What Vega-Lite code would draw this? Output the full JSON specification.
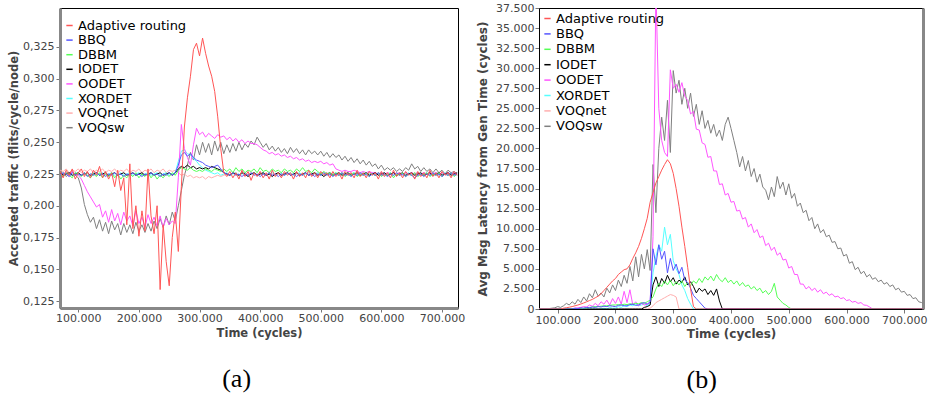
{
 "$schema": "https://vega.github.io/schema/vega-lite/v6.json",
 "padding": {"left": 8, "top": 1, "right": 2, "bottom": 2},
 "config": {
  "locale": {"number": {"decimal": ",", "thousands": ".", "grouping": [3], "currency": ["", ""]}},
  "font": "DejaVu Sans",
  "view": {"stroke": "black", "strokeWidth": 1},
  "axis": {"grid": false, "labelFont": "DejaVu Sans", "labelFontSize": 11, "labelColor": "#444", "titleFont": "DejaVu Sans", "titleFontWeight": "bold", "titleColor": "#444", "tickColor": "#777", "tickSize": 4, "labelPadding": 2, "domainColor": "black"},
  "legend": {"title": null, "symbolType": "stroke", "symbolSize": 40, "symbolStrokeWidth": 1.5, "labelFont": "DejaVu Sans", "labelFontSize": 13, "labelColor": "black", "padding": 0, "labelOffset": 2},
  "concat": {"spacing": 10}
 },
 "datasets": {
  "acc": [
   {"t":70000,"A":0.227,"B":0.224,"D":0.225,"I":0.226,"O":0.226,"X":0.225,"N":0.228,"S":0.224},
   {"t":75000,"A":0.222,"B":0.226,"D":0.223,"I":0.224,"O":0.224,"X":0.224,"N":0.227,"S":0.226},
   {"t":80000,"A":0.228,"B":0.225,"D":0.226,"I":0.225,"O":0.226,"X":0.226,"N":0.229,"S":0.223},
   {"t":85000,"A":0.224,"B":0.223,"D":0.224,"I":0.226,"O":0.223,"X":0.225,"N":0.226,"S":0.225},
   {"t":90000,"A":0.229,"B":0.226,"D":0.222,"I":0.224,"O":0.227,"X":0.224,"N":0.228,"S":0.227},
   {"t":95000,"A":0.221,"B":0.224,"D":0.226,"I":0.225,"O":0.225,"X":0.226,"N":0.227,"S":0.224},
   {"t":100000,"A":0.226,"B":0.225,"D":0.225,"I":0.226,"O":0.224,"X":0.225,"N":0.229,"S":0.222},
   {"t":105000,"A":0.229,"B":0.224,"D":0.223,"I":0.224,"O":0.221,"X":0.224,"N":0.226,"S":0.214},
   {"t":110000,"A":0.223,"B":0.226,"D":0.226,"I":0.225,"O":0.216,"X":0.226,"N":0.228,"S":0.201},
   {"t":115000,"A":0.227,"B":0.223,"D":0.224,"I":0.226,"O":0.211,"X":0.224,"N":0.227,"S":0.193},
   {"t":120000,"A":0.222,"B":0.225,"D":0.222,"I":0.224,"O":0.207,"X":0.225,"N":0.229,"S":0.187},
   {"t":125000,"A":0.228,"B":0.224,"D":0.225,"I":0.225,"O":0.203,"X":0.226,"N":0.226,"S":0.191},
   {"t":130000,"A":0.224,"B":0.226,"D":0.223,"I":0.226,"O":0.199,"X":0.224,"N":0.228,"S":0.182},
   {"t":135000,"A":0.231,"B":0.224,"D":0.226,"I":0.224,"O":0.201,"X":0.225,"N":0.227,"S":0.189},
   {"t":140000,"A":0.222,"B":0.225,"D":0.222,"I":0.225,"O":0.191,"X":0.226,"N":0.229,"S":0.180},
   {"t":145000,"A":0.227,"B":0.223,"D":0.225,"I":0.226,"O":0.196,"X":0.224,"N":0.226,"S":0.187},
   {"t":150000,"A":0.221,"B":0.225,"D":0.223,"I":0.224,"O":0.187,"X":0.225,"N":0.228,"S":0.178},
   {"t":155000,"A":0.226,"B":0.224,"D":0.226,"I":0.225,"O":0.197,"X":0.226,"N":0.227,"S":0.188},
   {"t":160000,"A":0.215,"B":0.226,"D":0.222,"I":0.226,"O":0.188,"X":0.224,"N":0.229,"S":0.181},
   {"t":165000,"A":0.228,"B":0.224,"D":0.225,"I":0.224,"O":0.194,"X":0.225,"N":0.226,"S":0.186},
   {"t":170000,"A":0.212,"B":0.225,"D":0.221,"I":0.225,"O":0.185,"X":0.226,"N":0.228,"S":0.177},
   {"t":175000,"A":0.222,"B":0.223,"D":0.224,"I":0.226,"O":0.195,"X":0.224,"N":0.227,"S":0.186},
   {"t":180000,"A":0.185,"B":0.225,"D":0.222,"I":0.224,"O":0.188,"X":0.225,"N":0.229,"S":0.179},
   {"t":185000,"A":0.233,"B":0.224,"D":0.225,"I":0.225,"O":0.192,"X":0.226,"N":0.226,"S":0.185},
   {"t":190000,"A":0.182,"B":0.226,"D":0.223,"I":0.226,"O":0.184,"X":0.224,"N":0.228,"S":0.178},
   {"t":195000,"A":0.200,"B":0.224,"D":0.226,"I":0.224,"O":0.196,"X":0.225,"N":0.227,"S":0.187},
   {"t":200000,"A":0.176,"B":0.225,"D":0.222,"I":0.225,"O":0.186,"X":0.226,"N":0.229,"S":0.180},
   {"t":205000,"A":0.196,"B":0.223,"D":0.225,"I":0.226,"O":0.191,"X":0.224,"N":0.226,"S":0.185},
   {"t":210000,"A":0.180,"B":0.225,"D":0.223,"I":0.224,"O":0.183,"X":0.225,"N":0.228,"S":0.179},
   {"t":215000,"A":0.229,"B":0.224,"D":0.226,"I":0.225,"O":0.193,"X":0.226,"N":0.227,"S":0.186},
   {"t":220000,"A":0.192,"B":0.226,"D":0.222,"I":0.226,"O":0.186,"X":0.224,"N":0.229,"S":0.180},
   {"t":225000,"A":0.178,"B":0.224,"D":0.225,"I":0.224,"O":0.191,"X":0.225,"N":0.226,"S":0.188},
   {"t":230000,"A":0.200,"B":0.225,"D":0.221,"I":0.225,"O":0.184,"X":0.226,"N":0.228,"S":0.182},
   {"t":235000,"A":0.134,"B":0.223,"D":0.224,"I":0.226,"O":0.192,"X":0.224,"N":0.227,"S":0.190},
   {"t":240000,"A":0.185,"B":0.225,"D":0.222,"I":0.224,"O":0.183,"X":0.225,"N":0.229,"S":0.183},
   {"t":245000,"A":0.156,"B":0.224,"D":0.225,"I":0.225,"O":0.190,"X":0.226,"N":0.226,"S":0.192},
   {"t":250000,"A":0.137,"B":0.226,"D":0.223,"I":0.226,"O":0.185,"X":0.224,"N":0.228,"S":0.185},
   {"t":255000,"A":0.175,"B":0.224,"D":0.226,"I":0.224,"O":0.188,"X":0.225,"N":0.227,"S":0.195},
   {"t":260000,"A":0.195,"B":0.226,"D":0.224,"I":0.226,"O":0.186,"X":0.226,"N":0.228,"S":0.188},
   {"t":265000,"A":0.164,"B":0.232,"D":0.228,"I":0.229,"O":0.222,"X":0.235,"N":0.226,"S":0.200},
   {"t":270000,"A":0.215,"B":0.240,"D":0.230,"I":0.231,"O":0.264,"X":0.243,"N":0.224,"S":0.212},
   {"t":275000,"A":0.262,"B":0.242,"D":0.229,"I":0.230,"O":0.245,"X":0.244,"N":0.225,"S":0.224},
   {"t":280000,"A":0.285,"B":0.239,"D":0.228,"I":0.232,"O":0.238,"X":0.241,"N":0.223,"S":0.232},
   {"t":285000,"A":0.302,"B":0.241,"D":0.230,"I":0.230,"O":0.232,"X":0.240,"N":0.224,"S":0.242},
   {"t":290000,"A":0.323,"B":0.238,"D":0.228,"I":0.231,"O":0.248,"X":0.237,"N":0.222,"S":0.236},
   {"t":295000,"A":0.328,"B":0.236,"D":0.227,"I":0.229,"O":0.261,"X":0.235,"N":0.223,"S":0.248},
   {"t":300000,"A":0.318,"B":0.235,"D":0.228,"I":0.230,"O":0.256,"X":0.232,"N":0.222,"S":0.240},
   {"t":305000,"A":0.332,"B":0.234,"D":0.227,"I":0.229,"O":0.258,"X":0.230,"N":0.223,"S":0.250},
   {"t":310000,"A":0.320,"B":0.232,"D":0.229,"I":0.230,"O":0.254,"X":0.228,"N":0.221,"S":0.242},
   {"t":315000,"A":0.310,"B":0.231,"D":0.228,"I":0.229,"O":0.257,"X":0.227,"N":0.223,"S":0.249},
   {"t":320000,"A":0.302,"B":0.230,"D":0.227,"I":0.231,"O":0.255,"X":0.226,"N":0.222,"S":0.240},
   {"t":325000,"A":0.290,"B":0.231,"D":0.229,"I":0.230,"O":0.253,"X":0.225,"N":0.223,"S":0.251},
   {"t":330000,"A":0.270,"B":0.232,"D":0.228,"I":0.229,"O":0.256,"X":0.226,"N":0.224,"S":0.243},
   {"t":335000,"A":0.245,"B":0.229,"D":0.227,"I":0.228,"O":0.254,"X":0.224,"N":0.223,"S":0.250},
   {"t":340000,"A":0.226,"B":0.226,"D":0.229,"I":0.226,"O":0.255,"X":0.225,"N":0.224,"S":0.241},
   {"t":345000,"A":0.223,"B":0.225,"D":0.227,"I":0.225,"O":0.252,"X":0.226,"N":0.225,"S":0.248},
   {"t":350000,"A":0.227,"B":0.224,"D":0.229,"I":0.224,"O":0.254,"X":0.224,"N":0.224,"S":0.242},
   {"t":355000,"A":0.222,"B":0.226,"D":0.226,"I":0.226,"O":0.251,"X":0.225,"N":0.226,"S":0.249},
   {"t":360000,"A":0.226,"B":0.224,"D":0.230,"I":0.225,"O":0.253,"X":0.226,"N":0.225,"S":0.243},
   {"t":365000,"A":0.221,"B":0.225,"D":0.227,"I":0.224,"O":0.250,"X":0.224,"N":0.224,"S":0.250},
   {"t":370000,"A":0.228,"B":0.223,"D":0.229,"I":0.226,"O":0.252,"X":0.225,"N":0.226,"S":0.244},
   {"t":375000,"A":0.223,"B":0.225,"D":0.226,"I":0.225,"O":0.249,"X":0.226,"N":0.225,"S":0.249},
   {"t":380000,"A":0.227,"B":0.224,"D":0.228,"I":0.223,"O":0.251,"X":0.224,"N":0.224,"S":0.246},
   {"t":385000,"A":0.220,"B":0.226,"D":0.227,"I":0.225,"O":0.249,"X":0.225,"N":0.226,"S":0.251},
   {"t":390000,"A":0.226,"B":0.224,"D":0.229,"I":0.226,"O":0.249,"X":0.226,"N":0.225,"S":0.248},
   {"t":395000,"A":0.223,"B":0.225,"D":0.226,"I":0.224,"O":0.248,"X":0.224,"N":0.224,"S":0.254},
   {"t":400000,"A":0.227,"B":0.223,"D":0.230,"I":0.225,"O":0.246,"X":0.225,"N":0.226,"S":0.250},
   {"t":405000,"A":0.222,"B":0.225,"D":0.227,"I":0.226,"O":0.244,"X":0.226,"N":0.225,"S":0.246},
   {"t":410000,"A":0.226,"B":0.224,"D":0.228,"I":0.224,"O":0.243,"X":0.224,"N":0.224,"S":0.249},
   {"t":415000,"A":0.221,"B":0.226,"D":0.226,"I":0.225,"O":0.241,"X":0.225,"N":0.226,"S":0.244},
   {"t":420000,"A":0.228,"B":0.224,"D":0.229,"I":0.223,"O":0.242,"X":0.226,"N":0.225,"S":0.247},
   {"t":425000,"A":0.223,"B":0.225,"D":0.227,"I":0.225,"O":0.240,"X":0.224,"N":0.224,"S":0.243},
   {"t":430000,"A":0.226,"B":0.223,"D":0.228,"I":0.226,"O":0.241,"X":0.225,"N":0.226,"S":0.246},
   {"t":435000,"A":0.222,"B":0.225,"D":0.226,"I":0.224,"O":0.239,"X":0.226,"N":0.225,"S":0.242},
   {"t":440000,"A":0.227,"B":0.224,"D":0.229,"I":0.225,"O":0.240,"X":0.224,"N":0.224,"S":0.245},
   {"t":445000,"A":0.224,"B":0.226,"D":0.227,"I":0.226,"O":0.238,"X":0.225,"N":0.226,"S":0.241},
   {"t":450000,"A":0.226,"B":0.224,"D":0.228,"I":0.224,"O":0.239,"X":0.226,"N":0.225,"S":0.246},
   {"t":455000,"A":0.221,"B":0.225,"D":0.226,"I":0.225,"O":0.237,"X":0.224,"N":0.224,"S":0.242},
   {"t":460000,"A":0.227,"B":0.223,"D":0.229,"I":0.226,"O":0.238,"X":0.225,"N":0.226,"S":0.245},
   {"t":465000,"A":0.223,"B":0.225,"D":0.227,"I":0.224,"O":0.236,"X":0.226,"N":0.225,"S":0.241},
   {"t":470000,"A":0.226,"B":0.224,"D":0.230,"I":0.225,"O":0.237,"X":0.224,"N":0.224,"S":0.244},
   {"t":475000,"A":0.222,"B":0.226,"D":0.227,"I":0.226,"O":0.235,"X":0.225,"N":0.226,"S":0.240},
   {"t":480000,"A":0.228,"B":0.224,"D":0.228,"I":0.224,"O":0.236,"X":0.226,"N":0.225,"S":0.244},
   {"t":485000,"A":0.223,"B":0.225,"D":0.226,"I":0.225,"O":0.234,"X":0.224,"N":0.224,"S":0.241},
   {"t":490000,"A":0.226,"B":0.223,"D":0.229,"I":0.226,"O":0.235,"X":0.225,"N":0.226,"S":0.243},
   {"t":495000,"A":0.222,"B":0.225,"D":0.227,"I":0.224,"O":0.234,"X":0.226,"N":0.225,"S":0.240},
   {"t":500000,"A":0.227,"B":0.224,"D":0.225,"I":0.225,"O":0.235,"X":0.224,"N":0.224,"S":0.243},
   {"t":505000,"A":0.224,"B":0.226,"D":0.227,"I":0.223,"O":0.233,"X":0.225,"N":0.226,"S":0.239},
   {"t":510000,"A":0.226,"B":0.224,"D":0.225,"I":0.225,"O":0.234,"X":0.226,"N":0.225,"S":0.242},
   {"t":515000,"A":0.222,"B":0.225,"D":0.226,"I":0.226,"O":0.232,"X":0.224,"N":0.224,"S":0.238},
   {"t":520000,"A":0.227,"B":0.223,"D":0.224,"I":0.224,"O":0.233,"X":0.225,"N":0.226,"S":0.241},
   {"t":525000,"A":0.223,"B":0.225,"D":0.226,"I":0.225,"O":0.229,"X":0.226,"N":0.225,"S":0.238},
   {"t":530000,"A":0.226,"B":0.224,"D":0.224,"I":0.226,"O":0.228,"X":0.224,"N":0.224,"S":0.240},
   {"t":535000,"A":0.221,"B":0.226,"D":0.226,"I":0.224,"O":0.227,"X":0.225,"N":0.226,"S":0.236},
   {"t":540000,"A":0.227,"B":0.224,"D":0.223,"I":0.225,"O":0.228,"X":0.226,"N":0.225,"S":0.239},
   {"t":545000,"A":0.224,"B":0.225,"D":0.225,"I":0.226,"O":0.227,"X":0.224,"N":0.224,"S":0.235},
   {"t":550000,"A":0.226,"B":0.223,"D":0.224,"I":0.224,"O":0.227,"X":0.225,"N":0.226,"S":0.238},
   {"t":555000,"A":0.222,"B":0.225,"D":0.226,"I":0.225,"O":0.228,"X":0.226,"N":0.225,"S":0.234},
   {"t":560000,"A":0.228,"B":0.224,"D":0.223,"I":0.226,"O":0.227,"X":0.224,"N":0.224,"S":0.237},
   {"t":565000,"A":0.223,"B":0.226,"D":0.225,"I":0.224,"O":0.226,"X":0.225,"N":0.226,"S":0.233},
   {"t":570000,"A":0.226,"B":0.224,"D":0.224,"I":0.225,"O":0.227,"X":0.226,"N":0.225,"S":0.236},
   {"t":575000,"A":0.222,"B":0.225,"D":0.226,"I":0.226,"O":0.226,"X":0.224,"N":0.224,"S":0.232},
   {"t":580000,"A":0.227,"B":0.223,"D":0.223,"I":0.224,"O":0.227,"X":0.225,"N":0.226,"S":0.235},
   {"t":585000,"A":0.224,"B":0.225,"D":0.225,"I":0.225,"O":0.226,"X":0.226,"N":0.225,"S":0.231},
   {"t":590000,"A":0.226,"B":0.224,"D":0.224,"I":0.226,"O":0.226,"X":0.224,"N":0.224,"S":0.233},
   {"t":595000,"A":0.221,"B":0.226,"D":0.226,"I":0.224,"O":0.225,"X":0.225,"N":0.226,"S":0.229},
   {"t":600000,"A":0.227,"B":0.224,"D":0.223,"I":0.225,"O":0.226,"X":0.226,"N":0.225,"S":0.232},
   {"t":605000,"A":0.223,"B":0.225,"D":0.225,"I":0.226,"O":0.225,"X":0.224,"N":0.224,"S":0.228},
   {"t":610000,"A":0.226,"B":0.223,"D":0.224,"I":0.224,"O":0.226,"X":0.225,"N":0.226,"S":0.230},
   {"t":615000,"A":0.222,"B":0.225,"D":0.226,"I":0.225,"O":0.225,"X":0.226,"N":0.225,"S":0.228},
   {"t":620000,"A":0.228,"B":0.224,"D":0.222,"I":0.226,"O":0.226,"X":0.224,"N":0.224,"S":0.230},
   {"t":625000,"A":0.223,"B":0.226,"D":0.225,"I":0.224,"O":0.225,"X":0.225,"N":0.226,"S":0.227},
   {"t":630000,"A":0.226,"B":0.224,"D":0.224,"I":0.225,"O":0.226,"X":0.226,"N":0.225,"S":0.229},
   {"t":635000,"A":0.222,"B":0.225,"D":0.226,"I":0.226,"O":0.225,"X":0.224,"N":0.224,"S":0.227},
   {"t":640000,"A":0.227,"B":0.223,"D":0.223,"I":0.224,"O":0.226,"X":0.225,"N":0.226,"S":0.230},
   {"t":645000,"A":0.224,"B":0.225,"D":0.225,"I":0.225,"O":0.225,"X":0.226,"N":0.225,"S":0.228},
   {"t":650000,"A":0.226,"B":0.224,"D":0.224,"I":0.226,"O":0.226,"X":0.224,"N":0.224,"S":0.233},
   {"t":655000,"A":0.221,"B":0.222,"D":0.226,"I":0.224,"O":0.225,"X":0.225,"N":0.226,"S":0.229},
   {"t":660000,"A":0.227,"B":0.224,"D":0.223,"I":0.225,"O":0.226,"X":0.226,"N":0.225,"S":0.231},
   {"t":665000,"A":0.223,"B":0.225,"D":0.225,"I":0.226,"O":0.225,"X":0.224,"N":0.224,"S":0.227},
   {"t":670000,"A":0.226,"B":0.223,"D":0.224,"I":0.224,"O":0.226,"X":0.225,"N":0.226,"S":0.230},
   {"t":675000,"A":0.222,"B":0.225,"D":0.226,"I":0.225,"O":0.225,"X":0.226,"N":0.225,"S":0.227},
   {"t":680000,"A":0.228,"B":0.224,"D":0.223,"I":0.226,"O":0.226,"X":0.224,"N":0.224,"S":0.229},
   {"t":685000,"A":0.223,"B":0.226,"D":0.225,"I":0.224,"O":0.225,"X":0.225,"N":0.226,"S":0.226},
   {"t":690000,"A":0.226,"B":0.224,"D":0.224,"I":0.225,"O":0.226,"X":0.226,"N":0.225,"S":0.229},
   {"t":695000,"A":0.222,"B":0.225,"D":0.226,"I":0.226,"O":0.225,"X":0.224,"N":0.224,"S":0.226},
   {"t":700000,"A":0.227,"B":0.223,"D":0.223,"I":0.224,"O":0.226,"X":0.225,"N":0.226,"S":0.228},
   {"t":705000,"A":0.224,"B":0.225,"D":0.225,"I":0.225,"O":0.225,"X":0.226,"N":0.225,"S":0.225},
   {"t":710000,"A":0.226,"B":0.224,"D":0.224,"I":0.226,"O":0.226,"X":0.224,"N":0.224,"S":0.228},
   {"t":715000,"A":0.222,"B":0.226,"D":0.226,"I":0.224,"O":0.225,"X":0.225,"N":0.226,"S":0.226},
   {"t":720000,"A":0.227,"B":0.224,"D":0.223,"I":0.225,"O":0.226,"X":0.226,"N":0.225,"S":0.227},
   {"t":725000,"A":0.224,"B":0.225,"D":0.225,"I":0.226,"O":0.225,"X":0.224,"N":0.224,"S":0.225}
  ],
  "lat": [
   {"t":65000,"A":0,"B":0,"D":0,"I":0,"O":0,"X":0,"N":0,"S":0},
   {"t":70000,"A":0,"B":0,"D":0,"I":0,"O":0,"X":0,"N":0,"S":0},
   {"t":75000,"A":0,"B":0,"D":0,"I":0,"O":0,"X":0,"N":0,"S":0},
   {"t":80000,"A":0,"B":0,"D":0,"I":0,"O":0,"X":0,"N":0,"S":0},
   {"t":85000,"A":0,"B":0,"D":0,"I":0,"O":0,"X":0,"N":0,"S":50},
   {"t":90000,"A":0,"B":0,"D":0,"I":0,"O":0,"X":0,"N":0,"S":100},
   {"t":95000,"A":0,"B":0,"D":0,"I":0,"O":0,"X":0,"N":0,"S":150},
   {"t":100000,"A":0,"B":0,"D":0,"I":0,"O":0,"X":0,"N":0,"S":300},
   {"t":105000,"A":0,"B":0,"D":0,"I":0,"O":0,"X":0,"N":0,"S":200},
   {"t":110000,"A":100,"B":0,"D":0,"I":0,"O":0,"X":0,"N":0,"S":400},
   {"t":115000,"A":160,"B":0,"D":0,"I":0,"O":0,"X":0,"N":0,"S":700},
   {"t":120000,"A":220,"B":0,"D":0,"I":0,"O":0,"X":0,"N":0,"S":500},
   {"t":125000,"A":300,"B":0,"D":0,"I":0,"O":50,"X":0,"N":0,"S":900},
   {"t":130000,"A":400,"B":100,"D":0,"I":0,"O":100,"X":0,"N":0,"S":600},
   {"t":135000,"A":500,"B":50,"D":0,"I":0,"O":150,"X":0,"N":0,"S":1200},
   {"t":140000,"A":620,"B":150,"D":0,"I":0,"O":200,"X":0,"N":0,"S":800},
   {"t":145000,"A":750,"B":100,"D":100,"I":0,"O":300,"X":0,"N":0,"S":1500},
   {"t":150000,"A":900,"B":200,"D":150,"I":0,"O":250,"X":0,"N":0,"S":1000},
   {"t":155000,"A":1050,"B":150,"D":200,"I":0,"O":500,"X":0,"N":0,"S":1900},
   {"t":160000,"A":1200,"B":250,"D":250,"I":0,"O":350,"X":0,"N":0,"S":1400},
   {"t":165000,"A":1400,"B":200,"D":300,"I":0,"O":700,"X":0,"N":0,"S":2400},
   {"t":170000,"A":1600,"B":300,"D":300,"I":0,"O":400,"X":0,"N":0,"S":1600},
   {"t":175000,"A":1900,"B":250,"D":350,"I":0,"O":900,"X":0,"N":0,"S":2000},
   {"t":180000,"A":2300,"B":350,"D":400,"I":0,"O":600,"X":100,"N":0,"S":1500},
   {"t":185000,"A":2700,"B":300,"D":400,"I":0,"O":1100,"X":0,"N":0,"S":2600},
   {"t":190000,"A":3100,"B":400,"D":450,"I":0,"O":500,"X":200,"N":0,"S":2000},
   {"t":195000,"A":3500,"B":350,"D":500,"I":0,"O":1300,"X":100,"N":0,"S":3000},
   {"t":200000,"A":3800,"B":300,"D":500,"I":0,"O":700,"X":100,"N":0,"S":2300},
   {"t":205000,"A":4300,"B":450,"D":550,"I":0,"O":1500,"X":300,"N":0,"S":3600},
   {"t":210000,"A":4600,"B":500,"D":500,"I":0,"O":600,"X":200,"N":0,"S":2800},
   {"t":215000,"A":4900,"B":400,"D":600,"I":0,"O":2200,"X":400,"N":0,"S":4200},
   {"t":220000,"A":5000,"B":400,"D":550,"I":0,"O":800,"X":300,"N":0,"S":3200},
   {"t":225000,"A":5500,"B":550,"D":650,"I":0,"O":2400,"X":500,"N":0,"S":5300},
   {"t":230000,"A":6300,"B":600,"D":600,"I":0,"O":500,"X":400,"N":0,"S":3500},
   {"t":235000,"A":7000,"B":450,"D":700,"I":0,"O":900,"X":600,"N":0,"S":6500},
   {"t":240000,"A":7800,"B":500,"D":650,"I":0,"O":400,"X":400,"N":0,"S":4000},
   {"t":245000,"A":8800,"B":700,"D":800,"I":0,"O":700,"X":500,"N":0,"S":6800},
   {"t":250000,"A":10000,"B":800,"D":700,"I":200,"O":500,"X":600,"N":0,"S":5000},
   {"t":255000,"A":11300,"B":600,"D":900,"I":300,"O":600,"X":400,"N":0,"S":7400},
   {"t":260000,"A":13300,"B":900,"D":1100,"I":500,"O":800,"X":700,"N":100,"S":4800},
   {"t":265000,"A":14500,"B":7500,"D":1500,"I":3000,"O":9000,"X":4500,"N":400,"S":18000},
   {"t":270000,"A":15700,"B":5500,"D":2500,"I":4000,"O":40000,"X":6500,"N":800,"S":12000},
   {"t":275000,"A":16500,"B":8000,"D":3200,"I":2800,"O":25000,"X":8000,"N":1000,"S":20000},
   {"t":280000,"A":17300,"B":6200,"D":2800,"I":3800,"O":21000,"X":7200,"N":1200,"S":23900},
   {"t":285000,"A":18000,"B":7200,"D":3500,"I":3200,"O":19500,"X":10200,"N":1400,"S":21000},
   {"t":290000,"A":18600,"B":4500,"D":3000,"I":4200,"O":19000,"X":8000,"N":1600,"S":26000},
   {"t":295000,"A":18100,"B":6300,"D":3600,"I":3400,"O":29800,"X":9300,"N":1800,"S":19500},
   {"t":300000,"A":16900,"B":4800,"D":2900,"I":3900,"O":27500,"X":6000,"N":1700,"S":29700},
   {"t":305000,"A":15000,"B":5600,"D":3400,"I":3100,"O":28000,"X":5000,"N":1500,"S":26900},
   {"t":310000,"A":12800,"B":4400,"D":3000,"I":3600,"O":27000,"X":4300,"N":0,"S":28500},
   {"t":315000,"A":10200,"B":5200,"D":3500,"I":3300,"O":28200,"X":3000,"N":0,"S":25500},
   {"t":320000,"A":7800,"B":3600,"D":2800,"I":4000,"O":26500,"X":2300,"N":0,"S":27500},
   {"t":325000,"A":5200,"B":3300,"D":3300,"I":3000,"O":26000,"X":1300,"N":0,"S":25000},
   {"t":330000,"A":2500,"B":2600,"D":2900,"I":3400,"O":24300,"X":600,"N":0,"S":26900},
   {"t":335000,"A":300,"B":1700,"D":3500,"I":2800,"O":24600,"X":0,"N":0,"S":24000},
   {"t":340000,"A":0,"B":1300,"D":3200,"I":2000,"O":22400,"X":0,"N":0,"S":25500},
   {"t":345000,"A":0,"B":900,"D":3800,"I":2600,"O":22300,"X":0,"N":0,"S":23000},
   {"t":350000,"A":0,"B":500,"D":3300,"I":2200,"O":20700,"X":0,"N":0,"S":24700},
   {"t":355000,"A":0,"B":100,"D":4000,"I":2500,"O":20500,"X":0,"N":0,"S":22500},
   {"t":360000,"A":0,"B":0,"D":3600,"I":1800,"O":18900,"X":0,"N":0,"S":23500},
   {"t":365000,"A":0,"B":0,"D":4100,"I":2300,"O":19000,"X":0,"N":0,"S":21900},
   {"t":370000,"A":0,"B":0,"D":3500,"I":1700,"O":17200,"X":0,"N":0,"S":23000},
   {"t":375000,"A":0,"B":0,"D":4300,"I":2500,"O":17200,"X":0,"N":0,"S":21500},
   {"t":380000,"A":0,"B":0,"D":3700,"I":1000,"O":15500,"X":0,"N":0,"S":22300},
   {"t":385000,"A":0,"B":0,"D":3400,"I":0,"O":15600,"X":0,"N":0,"S":21000},
   {"t":390000,"A":0,"B":0,"D":3900,"I":0,"O":14200,"X":0,"N":0,"S":23000},
   {"t":395000,"A":0,"B":0,"D":3300,"I":0,"O":14400,"X":0,"N":0,"S":23900},
   {"t":400000,"A":0,"B":0,"D":3600,"I":0,"O":13300,"X":0,"N":0,"S":22500},
   {"t":405000,"A":0,"B":0,"D":3100,"I":0,"O":13400,"X":0,"N":0,"S":21000},
   {"t":410000,"A":0,"B":0,"D":3500,"I":0,"O":12200,"X":0,"N":0,"S":19500},
   {"t":415000,"A":0,"B":0,"D":2900,"I":0,"O":12300,"X":0,"N":0,"S":17700},
   {"t":420000,"A":0,"B":0,"D":3300,"I":0,"O":11200,"X":0,"N":0,"S":19000},
   {"t":425000,"A":0,"B":0,"D":2800,"I":0,"O":11400,"X":0,"N":0,"S":17200},
   {"t":430000,"A":0,"B":0,"D":3000,"I":0,"O":10200,"X":0,"N":0,"S":18500},
   {"t":435000,"A":0,"B":0,"D":2500,"I":0,"O":10600,"X":0,"N":0,"S":16500},
   {"t":440000,"A":0,"B":0,"D":2800,"I":0,"O":9500,"X":0,"N":0,"S":17500},
   {"t":445000,"A":0,"B":0,"D":2300,"I":0,"O":9900,"X":0,"N":0,"S":15800},
   {"t":450000,"A":0,"B":0,"D":2600,"I":0,"O":8900,"X":0,"N":0,"S":16800},
   {"t":455000,"A":0,"B":0,"D":2000,"I":0,"O":9100,"X":0,"N":0,"S":15200},
   {"t":460000,"A":0,"B":0,"D":2300,"I":0,"O":7900,"X":0,"N":0,"S":14800},
   {"t":465000,"A":0,"B":0,"D":1800,"I":0,"O":8200,"X":0,"N":0,"S":13600},
   {"t":470000,"A":0,"B":0,"D":2200,"I":0,"O":7300,"X":0,"N":0,"S":15200},
   {"t":475000,"A":0,"B":0,"D":3200,"I":0,"O":7700,"X":0,"N":0,"S":14000},
   {"t":480000,"A":0,"B":0,"D":1500,"I":0,"O":6700,"X":0,"N":0,"S":16500},
   {"t":485000,"A":0,"B":0,"D":1100,"I":0,"O":7000,"X":0,"N":0,"S":15000},
   {"t":490000,"A":0,"B":0,"D":700,"I":0,"O":6100,"X":0,"N":0,"S":15800},
   {"t":495000,"A":0,"B":0,"D":500,"I":0,"O":6200,"X":0,"N":0,"S":14200},
   {"t":500000,"A":0,"B":0,"D":200,"I":0,"O":5100,"X":0,"N":0,"S":15600},
   {"t":505000,"A":0,"B":0,"D":0,"I":0,"O":5300,"X":0,"N":0,"S":13800},
   {"t":510000,"A":0,"B":0,"D":0,"I":0,"O":4300,"X":0,"N":0,"S":14400},
   {"t":515000,"A":0,"B":0,"D":0,"I":0,"O":4300,"X":0,"N":0,"S":12800},
   {"t":520000,"A":0,"B":0,"D":0,"I":0,"O":3100,"X":0,"N":0,"S":13200},
   {"t":525000,"A":0,"B":0,"D":0,"I":0,"O":3100,"X":0,"N":0,"S":12000},
   {"t":530000,"A":0,"B":0,"D":0,"I":0,"O":2500,"X":0,"N":0,"S":12300},
   {"t":535000,"A":0,"B":0,"D":0,"I":0,"O":2800,"X":0,"N":0,"S":11000},
   {"t":540000,"A":0,"B":0,"D":0,"I":0,"O":2300,"X":0,"N":0,"S":11400},
   {"t":545000,"A":0,"B":0,"D":0,"I":0,"O":2600,"X":0,"N":0,"S":10000},
   {"t":550000,"A":0,"B":0,"D":0,"I":0,"O":2100,"X":0,"N":0,"S":10600},
   {"t":555000,"A":0,"B":0,"D":0,"I":0,"O":2400,"X":0,"N":0,"S":9500},
   {"t":560000,"A":0,"B":0,"D":0,"I":0,"O":1900,"X":0,"N":0,"S":9900},
   {"t":565000,"A":0,"B":0,"D":0,"I":0,"O":2100,"X":0,"N":0,"S":9000},
   {"t":570000,"A":0,"B":0,"D":0,"I":0,"O":1700,"X":0,"N":0,"S":9200},
   {"t":575000,"A":0,"B":0,"D":0,"I":0,"O":1900,"X":0,"N":0,"S":8300},
   {"t":580000,"A":0,"B":0,"D":0,"I":0,"O":1500,"X":0,"N":0,"S":8400},
   {"t":585000,"A":0,"B":0,"D":0,"I":0,"O":1600,"X":0,"N":0,"S":7500},
   {"t":590000,"A":0,"B":0,"D":0,"I":0,"O":1300,"X":0,"N":0,"S":7600},
   {"t":595000,"A":0,"B":0,"D":0,"I":0,"O":1400,"X":0,"N":0,"S":6600},
   {"t":600000,"A":0,"B":0,"D":0,"I":0,"O":1050,"X":0,"N":0,"S":6800},
   {"t":605000,"A":0,"B":0,"D":0,"I":0,"O":1150,"X":0,"N":0,"S":5700},
   {"t":610000,"A":0,"B":0,"D":0,"I":0,"O":850,"X":0,"N":0,"S":5900},
   {"t":615000,"A":0,"B":0,"D":0,"I":0,"O":950,"X":0,"N":0,"S":4900},
   {"t":620000,"A":0,"B":0,"D":0,"I":0,"O":700,"X":0,"N":0,"S":5200},
   {"t":625000,"A":0,"B":0,"D":0,"I":0,"O":800,"X":0,"N":0,"S":4400},
   {"t":630000,"A":0,"B":0,"D":0,"I":0,"O":500,"X":0,"N":0,"S":4700},
   {"t":635000,"A":0,"B":0,"D":0,"I":0,"O":450,"X":0,"N":0,"S":4000},
   {"t":640000,"A":0,"B":0,"D":0,"I":0,"O":250,"X":0,"N":0,"S":4300},
   {"t":645000,"A":0,"B":0,"D":0,"I":0,"O":0,"X":0,"N":0,"S":3700},
   {"t":650000,"A":0,"B":0,"D":0,"I":0,"O":0,"X":0,"N":0,"S":3900},
   {"t":655000,"A":0,"B":0,"D":0,"I":0,"O":0,"X":0,"N":0,"S":3400},
   {"t":660000,"A":0,"B":0,"D":0,"I":0,"O":0,"X":0,"N":0,"S":3600},
   {"t":665000,"A":0,"B":0,"D":0,"I":0,"O":0,"X":0,"N":0,"S":3100},
   {"t":670000,"A":0,"B":0,"D":0,"I":0,"O":0,"X":0,"N":0,"S":3300},
   {"t":675000,"A":0,"B":0,"D":0,"I":0,"O":0,"X":0,"N":0,"S":2800},
   {"t":680000,"A":0,"B":0,"D":0,"I":0,"O":0,"X":0,"N":0,"S":3000},
   {"t":685000,"A":0,"B":0,"D":0,"I":0,"O":0,"X":0,"N":0,"S":2400},
   {"t":690000,"A":0,"B":0,"D":0,"I":0,"O":0,"X":0,"N":0,"S":2600},
   {"t":695000,"A":0,"B":0,"D":0,"I":0,"O":0,"X":0,"N":0,"S":2100},
   {"t":700000,"A":0,"B":0,"D":0,"I":0,"O":0,"X":0,"N":0,"S":2200},
   {"t":705000,"A":0,"B":0,"D":0,"I":0,"O":0,"X":0,"N":0,"S":1700},
   {"t":710000,"A":0,"B":0,"D":0,"I":0,"O":0,"X":0,"N":0,"S":1800},
   {"t":715000,"A":0,"B":0,"D":0,"I":0,"O":0,"X":0,"N":0,"S":1300},
   {"t":720000,"A":0,"B":0,"D":0,"I":0,"O":0,"X":0,"N":0,"S":1400},
   {"t":725000,"A":0,"B":0,"D":0,"I":0,"O":0,"X":0,"N":0,"S":900},
   {"t":730000,"A":0,"B":0,"D":0,"I":0,"O":0,"X":0,"N":0,"S":800},
   {"t":735000,"A":0,"B":0,"D":0,"I":0,"O":0,"X":0,"N":0,"S":500}
  ]
 },
 "hconcat": [
  {
   "width": 398,
   "height": 300,
   "data": {"name": "acc"},
   "transform": [
    {"fold": ["S", "N", "X", "O", "I", "D", "B", "A"], "as": ["k", "v"]},
    {"lookup": "k", "from": {"data": {"values": [{"k": "A", "name": "Adaptive routing"}, {"k": "B", "name": "BBQ"}, {"k": "D", "name": "DBBM"}, {"k": "I", "name": "IODET"}, {"k": "O", "name": "OODET"}, {"k": "X", "name": "XORDET"}, {"k": "N", "name": "VOQnet"}, {"k": "S", "name": "VOQsw"}]}, "key": "k", "fields": ["name"]}}
   ],
   "mark": {"type": "line", "strokeWidth": 1, "clip": true},
   "encoding": {
    "x": {"field": "t", "type": "quantitative", "scale": {"domain": [69800, 726400], "nice": false, "zero": false},
          "axis": {"title": "Time (cycles)", "values": [100000, 200000, 300000, 400000, 500000, 600000, 700000], "format": ",d", "domainColor": "#888", "domainWidth": 3, "labelPadding": 0, "titleFontSize": 11.5, "titlePadding": 4}},
    "y": {"field": "v", "type": "quantitative", "scale": {"domain": [0.1195, 0.3557], "nice": false, "zero": false},
          "axis": {"title": "Accepted traffic (flits/cycle/node)", "values": [0.125, 0.15, 0.175, 0.2, 0.225, 0.25, 0.275, 0.3, 0.325], "format": ".3f", "domainColor": "#888", "domainWidth": 3, "titleFontSize": 11.5, "titlePadding": 3}},
    "color": {"field": "name", "type": "nominal",
              "scale": {"domain": ["Adaptive routing", "BBQ", "DBBM", "IODET", "OODET", "XORDET", "VOQnet", "VOQsw"], "range": ["#ff5555", "#5555ff", "#55ff55", "#000000", "#ff55ff", "#55ffff", "#ffafaf", "#808080"]},
              "legend": {"orient": "none", "legendX": 3, "legendY": 11, "rowPadding": 0.6}}
   },
   "title": {"text": "(a)", "orient": "bottom", "anchor": "middle", "frame": "bounds", "font": "Liberation Serif", "fontSize": 26, "fontWeight": "normal", "color": "black", "offset": 27}
  },
  {
   "width": 384,
   "height": 301,
   "data": {"name": "lat"},
   "transform": [
    {"fold": ["S", "N", "X", "O", "I", "D", "B", "A"], "as": ["k", "v"]},
    {"lookup": "k", "from": {"data": {"values": [{"k": "A", "name": "Adaptive routing"}, {"k": "B", "name": "BBQ"}, {"k": "D", "name": "DBBM"}, {"k": "I", "name": "IODET"}, {"k": "O", "name": "OODET"}, {"k": "X", "name": "XORDET"}, {"k": "N", "name": "VOQnet"}, {"k": "S", "name": "VOQsw"}]}, "key": "k", "fields": ["name"]}}
   ],
   "layer": [
    {
     "mark": {"type": "line", "strokeWidth": 1, "clip": true},
     "encoding": {
      "x": {"field": "t", "type": "quantitative", "scale": {"domain": [67600, 732400], "nice": false, "zero": false},
            "axis": {"title": "Time (cycles)", "values": [100000, 200000, 300000, 400000, 500000, 600000, 700000], "format": ",d", "labelPadding": 1, "titleFontSize": 12, "titlePadding": 3}},
      "y": {"field": "v", "type": "quantitative", "scale": {"domain": [0, 37500], "nice": false, "zero": false},
            "axis": {"title": "Avg Msg Latency from Gen Time (cycles)", "values": [0, 2500, 5000, 7500, 10000, 12500, 15000, 17500, 20000, 22500, 25000, 27500, 30000, 32500, 35000, 37500], "format": ",d", "labelPadding": 1, "titleFontSize": 12, "titlePadding": 6}},
      "color": {"field": "name", "type": "nominal",
                "scale": {"domain": ["Adaptive routing", "BBQ", "DBBM", "IODET", "OODET", "XORDET", "VOQnet", "VOQsw"], "range": ["#ff5555", "#5555ff", "#55ff55", "#000000", "#ff55ff", "#55ffff", "#ffafaf", "#808080"]},
                "legend": {"orient": "none", "legendX": 2, "legendY": 4, "rowPadding": 1.4}}
     }
    },
    {
     "mark": {"type": "line", "opacity": 0, "clip": true},
     "encoding": {
      "x": {"field": "t", "type": "quantitative"},
      "y": {"field": "v", "type": "quantitative", "scale": {"domain": [0, 37500], "nice": false, "zero": false},
            "axis": {"orient": "right", "title": null, "labels": false, "ticks": false, "domainColor": "#888", "domainWidth": 3}}
     }
    }
   ],
   "resolve": {"scale": {"y": "independent"}},
   "title": {"text": "(b)", "orient": "bottom", "anchor": "middle", "frame": "bounds", "font": "Liberation Serif", "fontSize": 26, "fontWeight": "normal", "color": "black", "offset": 28}
  }
 ],
 "resolve": {"legend": {"color": "independent"}}
}
